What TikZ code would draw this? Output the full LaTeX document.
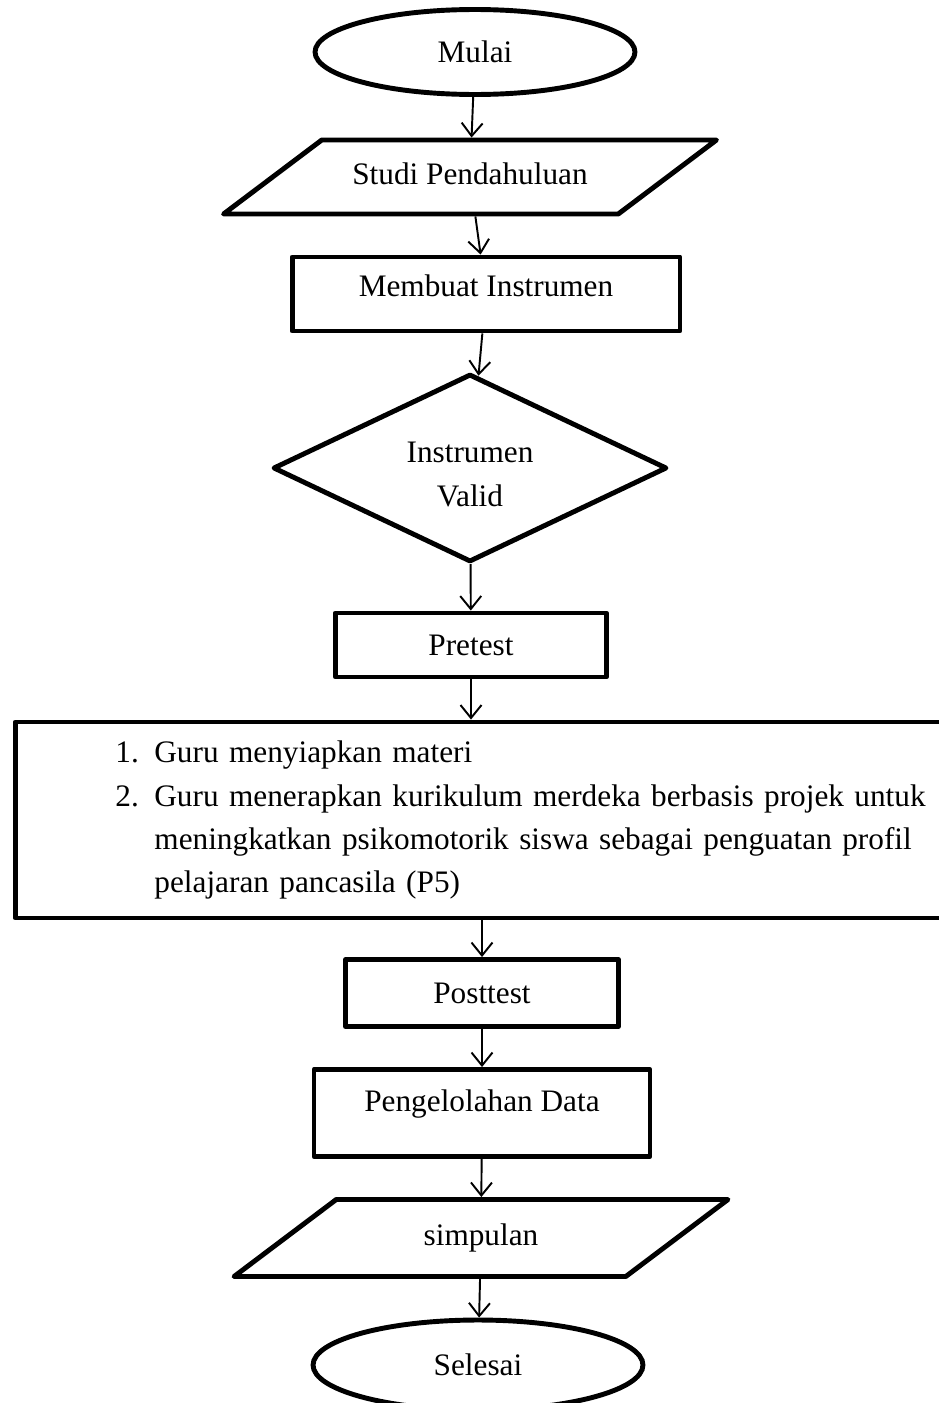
\documentclass[tikz,border=0pt]{standalone}
\usepackage{fontspec}
\setmainfont{Liberation Serif}
\usetikzlibrary{shapes.geometric}
\usetikzlibrary{arrows.meta}

\begin{document}
\begin{tikzpicture}[x=0.02cm, y=-0.02cm,
        every node/.style={font=\fontsize{17.8}{24.5}\selectfont, line width=2.8pt, inner sep=0pt},
        term/.style={ellipse, draw},
        proc/.style={rectangle, draw, line join=round},
        io/.style={trapezium, trapezium left angle=37, trapezium right angle=143, trapezium stretches body, draw, line join=round, text height=0.45cm, text depth=0.15cm},
        cek/.style={diamond, shape aspect=2, draw, line join=round, align=center},
        panah/.style={-{Straight Barb[length=2.6mm, width=4.2mm]}, line width=1.1pt}]
            \useasboundingbox (0,0) rectangle (938,1403);

            \node[term, minimum width=6.4cm, minimum height=1.7cm] (mulai) at (475,52) {Mulai};
            \node[io, minimum width=9.86cm, inner ysep=0.44cm] (studi) at (470,177) {Studi Pendahuluan};
            \node[proc, minimum width=7.76cm, minimum height=1.48cm, text depth=0.35cm] (membuat) at (486,294) {Membuat Instrumen};
            \node[cek, minimum width=7.88cm, minimum height=3.76cm, text height=1.53cm] (valid) at (470,468) {Instrumen\\Valid};
            \node[proc, minimum width=5.42cm, minimum height=1.28cm] (pretest) at (471,645) {Pretest};
            \node[proc, anchor=west, text width=16.6cm, inner xsep=2cm, minimum height=3.92cm, align=left] (langkah) at (13,820)
                {\makebox[0.78cm][l]{1.}Guru menyiapkan materi\\
                 \makebox[0.78cm][l]{2.}Guru menerapkan kurikulum merdeka berbasis projek untuk\\
                 \hspace*{0.78cm}meningkatkan psikomotorik siswa sebagai penguatan profil\\
                 \hspace*{0.78cm}pelajaran pancasila (P5)};
            \node[proc, minimum width=5.46cm, minimum height=1.34cm] (posttest) at (482,993) {Posttest};
            \node[proc, minimum width=6.72cm, minimum height=1.74cm, text depth=0.5cm] (olah) at (482,1113) {Pengelolahan Data};
            \node[io, minimum width=9.88cm, inner ysep=0.47cm] (simpulan) at (481,1238) {simpulan};
            \node[term, minimum width=6.6cm, minimum height=1.8cm] (selesai) at (478,1365) {Selesai};

            \draw[panah] (mulai) -- (studi);
            \draw[panah] (studi) -- (membuat);
            \draw[panah] (membuat) -- (valid);
            \draw[panah] (valid) -- (pretest);
            \draw[panah] (pretest.south) -- (pretest.south |- langkah.north);
            \draw[panah] (posttest.north |- langkah.south) -- (posttest);
            \draw[panah] (posttest) -- (olah);
            \draw[panah] (olah) -- (simpulan);
            \draw[panah] (simpulan) -- (selesai);
        \end{tikzpicture}
\end{document}
